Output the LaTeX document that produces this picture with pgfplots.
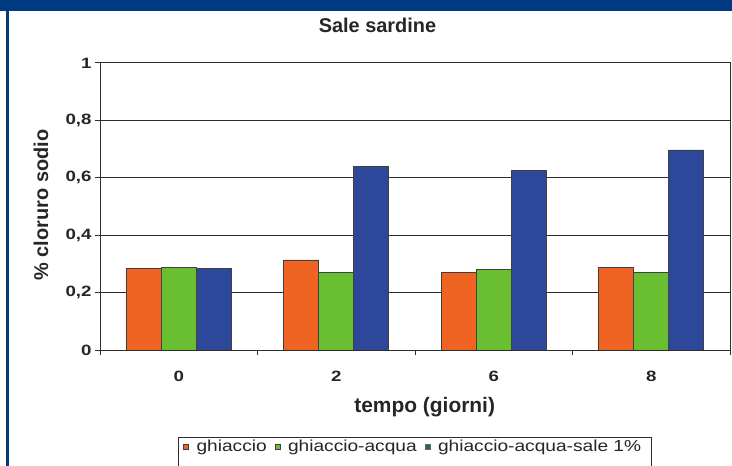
\documentclass[border=0pt]{standalone}
\usepackage{pgfplots}
\pgfplotsset{compat=1.18}
\usepackage{pgfplotstable}
\usepackage{fontspec}
\setmainfont{Liberation Sans}
\newfontfamily\tickfont{Liberation Sans}[FakeStretch=1.25]
\newfontfamily\legfont{Liberation Sans}[FakeStretch=1.2]
\definecolor{frameblue}{RGB}{0,59,130}
\definecolor{cOrange}{RGB}{240,100,35}
\definecolor{cGreen}{RGB}{105,190,50}
\definecolor{cBlue}{RGB}{45,72,155}
\definecolor{cTeal}{RGB}{40,100,100}
\definecolor{gridc}{RGB}{45,45,45}

\pgfplotstableread{
x o g b
0 0.285 0.287 0.285
1 0.314 0.270 0.639
2 0.271 0.281 0.625
3 0.287 0.269 0.697
}\datatable

\pgfplotsset{
  mylegimg/.style={legend image code/.code={\draw[##1] (0bp,-2.5bp) rectangle (5bp,2.5bp); \path[draw=none,fill=none] (0bp,0bp) -- (11bp,0bp);}},
}

\begin{document}
\begin{tikzpicture}
\path[use as bounding box] (0,0) rectangle (732bp,466bp);
\fill[white] (0,0) rectangle (732bp,466bp);
\fill[frameblue] (0,455bp) rectangle (732bp,466bp);
\fill[frameblue] (5.5bp,0) rectangle (8.5bp,466bp);
\begin{axis}[
  at={(100bp,116bp)}, anchor=south west,
  scale only axis, width=630bp, height=287bp,
  xmin=-0.5, xmax=3.5, ymin=0, ymax=1,
  ybar=0pt, bar width=35bp,
  xtick={0,1,2,3}, xticklabels={0,2,6,8},
  minor xtick={-0.5,0.5,1.5,2.5,3.5},
  ytick={0,0.2,0.4,0.6,0.8,1}, yticklabels={0,{0,2},{0,4},{0,6},{0,8},1},
  xtick pos=bottom, ytick pos=left,
  tick align=outside,
  major tick length=5bp, minor tick length=5bp,
  major x tick style={draw=none},
  tick style={gridc, line width=1bp},
  ymajorgrids, major grid style={gridc, line width=1bp},
  axis line style={gridc, line width=1bp},
  ticklabel style={font=\tickfont\bfseries\fontsize{15}{17}\selectfont, text=black!85},
  xticklabel style={yshift=-13bp},
  title={Sale sardine},
  title style={at={(axis description cs:0.4405,1.109)}, anchor=center, font=\bfseries\fontsize{20}{24}\selectfont, text=black!85},
  xlabel={tempo (giorni)},
  xlabel style={at={(axis description cs:0.5154,-0.1976)}, anchor=center, font=\bfseries\fontsize{21}{24}\selectfont, text=black!85},
  ylabel={\% cloruro sodio},
  ylabel style={at={(axis description cs:-0.0937,0.505)}, anchor=center, rotate=0, font=\bfseries\fontsize{20}{24}\selectfont, text=black!85},
  legend columns=3,
  legend style={at={(axis description cs:0.1238,-0.337)}, anchor=west, draw=none, fill=none,
    font=\legfont\fontsize{16}{18}\selectfont, text=black!85, inner xsep=5bp,
    /tikz/every even column/.append style={column sep=6bp}},
  legend cell align=left,
]
\addplot[fill=cOrange, draw=black!75, line width=0.7bp, mylegimg] table[x=x,y=o]{\datatable};
\addplot[fill=cGreen, draw=black!75, line width=0.7bp, mylegimg] table[x=x,y=g]{\datatable};
\addplot[fill=cBlue, draw=black!75, line width=0.7bp,
  legend image code/.code={\draw[fill=cTeal, draw=black!60] (0bp,-2.5bp) rectangle (5bp,2.5bp); \path[draw=none,fill=none] (0bp,0bp) -- (11bp,0bp);}] table[x=x,y=b]{\datatable};
\legend{ghiaccio, ghiaccio-acqua, ghiaccio-acqua-sale 1\%}
\end{axis}
\draw[gridc, line width=1bp] (178bp,-5bp) rectangle (651bp,28bp);
\end{tikzpicture}
\end{document}
